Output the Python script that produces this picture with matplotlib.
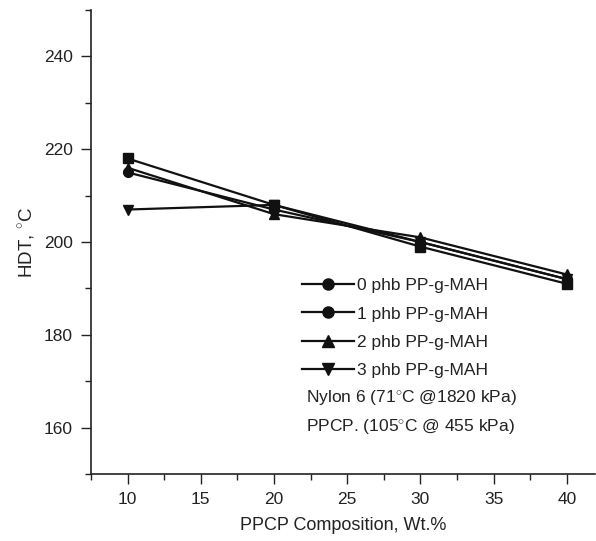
import matplotlib
matplotlib.use("Agg")
import matplotlib.pyplot as plt
from matplotlib.lines import Line2D
from matplotlib.ticker import MultipleLocator

plt.rcParams['font.family'] = ['Liberation Sans', 'DejaVu Sans']
plt.rcParams['mathtext.fontset'] = 'custom'
plt.rcParams['mathtext.rm'] = 'Liberation Sans'

composition = [10, 20, 30, 40]
hdt_0phb = [218, 208, 199, 191]
hdt_1phb = [215, 207, 200, 192]
hdt_2phb = [216, 206, 201, 193]
hdt_3phb = [207, 208, 200, 192]
series_labels = ['0 phb PP-g-MAH', '1 phb PP-g-MAH', '2 phb PP-g-MAH', '3 phb PP-g-MAH']
note_lines = [r'Nylon 6 (71$^{\circ}$C @1820 kPa)', r'PPCP. (105$^{\circ}$C @ 455 kPa)']

fig = plt.figure(figsize=(5.96, 5.41), dpi=100)
ax = fig.add_axes([0.1527, 0.1238, 0.845, 0.8577])

series = [hdt_0phb, hdt_1phb, hdt_2phb, hdt_3phb]
plot_markers = ['s', 'o', '^', 'v']
legend_markers = ['o', 'o', '^', 'v']
for vals, m in zip(series, plot_markers):
    ax.plot(composition, vals, color='#111111', lw=1.6, marker=m, ms=7, mfc='#111111', mec='#111111')

handles = [Line2D([0], [0], color='#111111', lw=1.6, marker=m, ms=8) for m in legend_markers]
leg = ax.legend(handles, series_labels, loc='upper left', bbox_to_anchor=(0.405, 0.437),
                frameon=False, fontsize=12.5, handlelength=3.0, handletextpad=0.2,
                labelspacing=0.75, borderaxespad=0)
for t in leg.get_texts():
    t.set_color('#222222')

ax.text(0.427, 0.1638, note_lines[0], transform=ax.transAxes, fontsize=12.5, va='center', ha='left', color='#222222')
ax.text(0.427, 0.1013, note_lines[1], transform=ax.transAxes, fontsize=12.5, va='center', ha='left', color='#222222')

ax.set_xlim(7.5, 41.9)
ax.set_ylim(150, 250)
ax.xaxis.set_major_locator(MultipleLocator(5))
ax.xaxis.set_minor_locator(MultipleLocator(2.5))
ax.yaxis.set_major_locator(MultipleLocator(20))
ax.yaxis.set_minor_locator(MultipleLocator(10))

for s in ['top', 'right']:
    ax.spines[s].set_visible(False)
for s in ['left', 'bottom']:
    ax.spines[s].set_linewidth(1.2)
    ax.spines[s].set_color('#222222')

ax.tick_params(which='major', direction='out', length=7, width=1.0, labelsize=12.5, colors='#222222', pad=6)
ax.tick_params(which='minor', direction='out', length=4, width=1.0, colors='#222222')

ax.set_xlabel('PPCP Composition, Wt.%', fontsize=13, labelpad=7, color='#222222')
ax.set_ylabel(r'HDT, $^{\circ}$C', fontsize=13.5, labelpad=5, color='#222222')

fig.savefig('out.png', dpi=100)
